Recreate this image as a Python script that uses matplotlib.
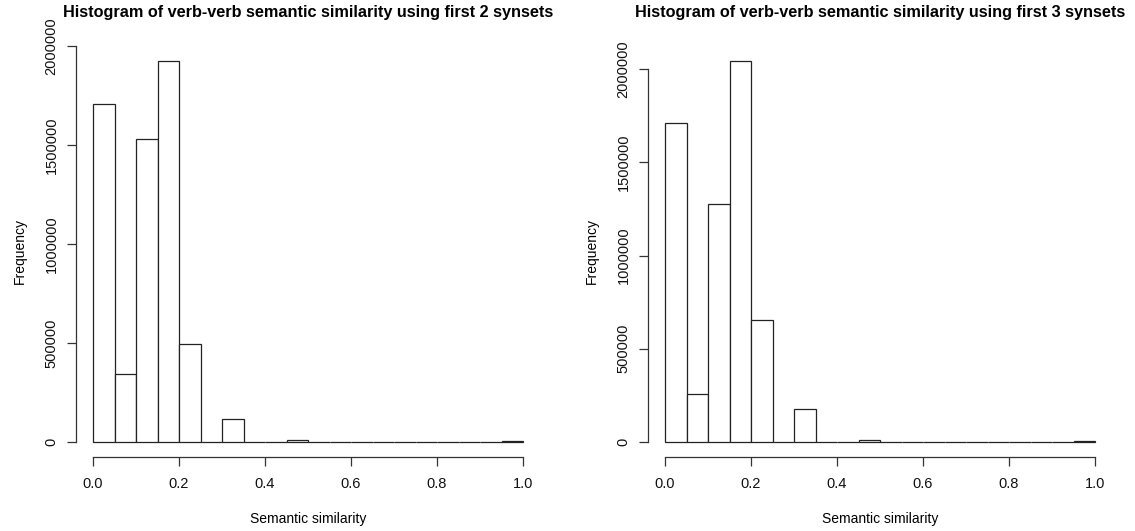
import matplotlib.pyplot as plt
import numpy as np

plt.rcParams['font.family'] = ['Liberation Sans', 'DejaVu Sans']

bin_edges = np.linspace(0.0, 1.0, 21)

counts_2 = [1707000, 343000, 1530000, 1924000, 495000, 0, 116000, 0, 0, 9000,
            0, 0, 0, 0, 0, 0, 0, 0, 0, 3000]
counts_3 = [1710000, 257000, 1276000, 2043000, 654000, 0, 177000, 0, 0, 9000,
            0, 0, 0, 0, 0, 0, 0, 0, 0, 3000]

titles = ['Histogram of verb-verb semantic similarity using first 2 synsets',
          'Histogram of verb-verb semantic similarity using first 3 synsets']
x_ticks = [0.0, 0.2, 0.4, 0.6, 0.8, 1.0]
y_ticks = [[0, 500000, 1000000, 1500000, 2000000],
           [0, 500000, 1000000, 1500000, 2000000]]

W, H = 1135, 531
fig = plt.figure(figsize=(W / 100, H / 100), dpi=100)

panels = [(75.8, counts_2, titles[0], y_ticks[0]),
          (647.8, counts_3, titles[1], y_ticks[1])]

for left_px, counts, title, yt in panels:
    ax = fig.add_axes([left_px / W, (H - 457) / H, 464.4 / W, 411 / H])
    widths = np.diff(bin_edges)
    ax.bar(bin_edges[:-1], counts, width=widths, align='edge',
           facecolor='white', edgecolor='#222222', linewidth=0.9)
    cmax = max(counts)
    ax.set_xlim(-0.04, 1.04)
    ax.set_ylim(-0.04 * cmax, 1.04 * cmax)
    for s in ['top', 'right']:
        ax.spines[s].set_visible(False)
    ax.spines['left'].set_bounds(yt[0], yt[-1])
    ax.spines['bottom'].set_bounds(0, 1)
    for s in ['left', 'bottom']:
        ax.spines[s].set_color('#333333')
        ax.spines[s].set_linewidth(0.9)
    ax.set_xticks(x_ticks)
    ax.set_xticklabels(['%.1f' % v for v in x_ticks])
    ax.set_yticks(yt)
    ax.set_yticklabels([str(v) for v in yt], rotation=90, va='center')
    ax.tick_params(length=6.5, width=0.9, color='#333333', labelsize=10.5,
                   labelcolor='#111111')
    ax.tick_params(axis='x', pad=8)
    ax.tick_params(axis='y', pad=6)
    ax.set_xlabel('Semantic similarity', fontsize=10, labelpad=15)
    ax.set_ylabel('Frequency', fontsize=10, labelpad=13)
    ax.set_title(title, fontsize=11.7, fontweight='bold', pad=21)

fig.savefig('out.png', dpi=100)
